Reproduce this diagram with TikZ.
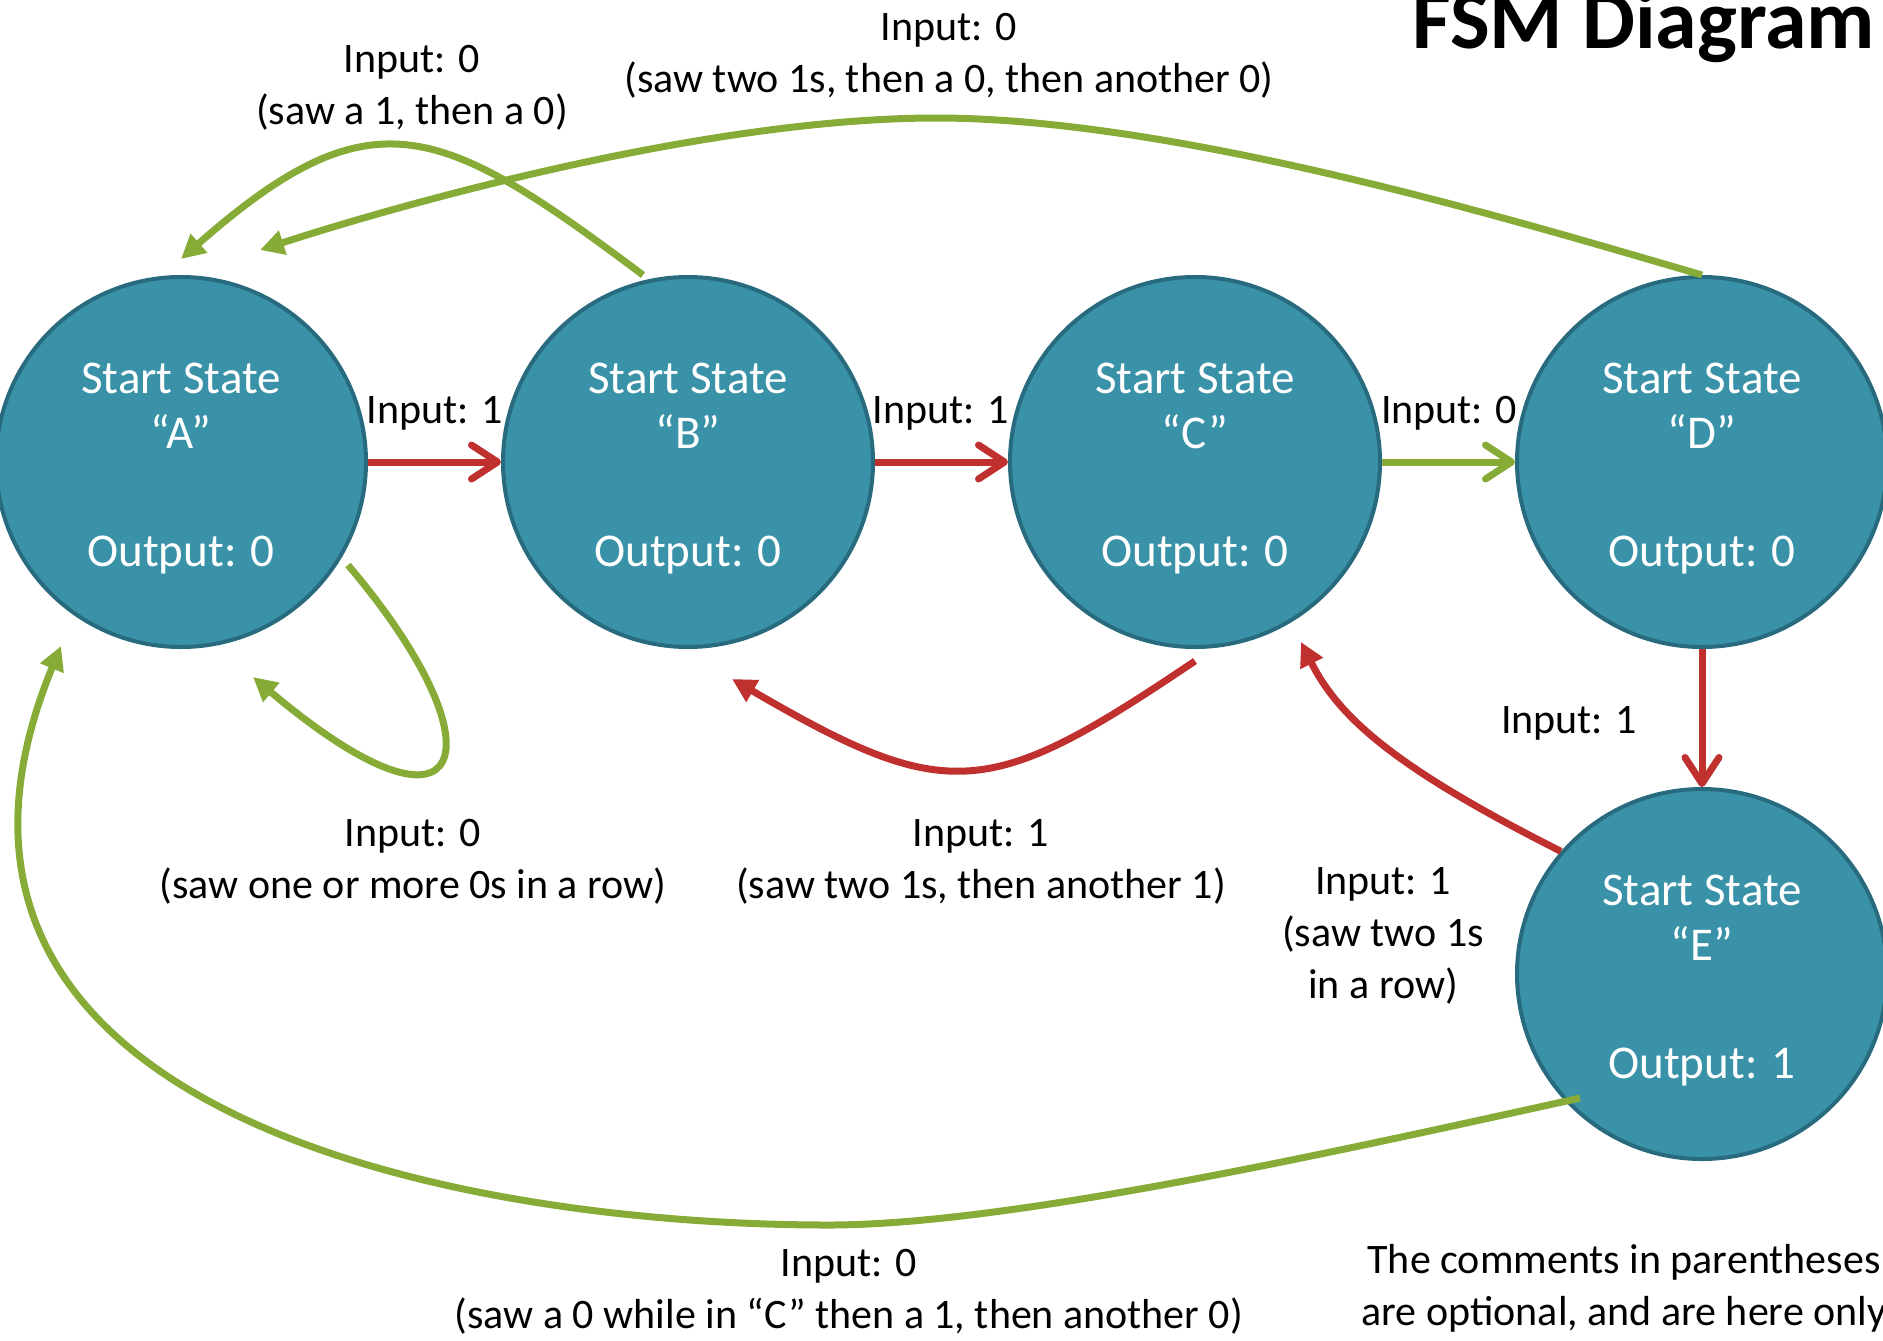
\documentclass[tikz,border=0pt]{standalone}
\usepackage{fontspec}
\setmainfont{Carlito}
\usepackage{xcolor}
\usepackage{tikz}
\usetikzlibrary{arrows.meta, positioning}
\definecolor{statefill}{HTML}{3A92A8}
\definecolor{stateedge}{HTML}{286B7F}
\definecolor{redline}{HTML}{C0302F}
\definecolor{greenline}{HTML}{86AC37}

\begin{document}
\begin{tikzpicture}[
  x=0.5pt, y=0.5pt,
  fsmstate/.style={circle, draw=stateedge, line width=2pt, fill=statefill, text=white, minimum size=185pt, inner sep=0pt, align=center, font=\fontsize{23.5}{27.5}\selectfont},
  redstraight/.style={draw=redline, line width=3.5pt, -{Straight Barb[length=13pt, width=17pt, round]}},
  greenstraight/.style={draw=greenline, line width=3.5pt, -{Straight Barb[length=13pt, width=17pt, round]}},
  redcurve/.style={draw=redline, line width=3.5pt, -{Triangle[length=12pt, width=12pt]}},
  greencurve/.style={draw=greenline, line width=3.5pt, -{Triangle[length=12pt, width=12pt]}},
  lbl/.style={font=\fontsize{21}{26}\selectfont, align=center}
]
  \useasboundingbox (0,0) rectangle (1883,-1340);

  \node[fsmstate] (A) at (181,-462) {\rule{0pt}{21.5pt}Start State\\“A”\\[31.5pt]Output: 0};
  \node[fsmstate, right=66.5pt of A] (B) {\rule{0pt}{21.5pt}Start State\\“B”\\[31.5pt]Output: 0};
  \node[fsmstate, right=66.5pt of B] (C) {\rule{0pt}{21.5pt}Start State\\“C”\\[31.5pt]Output: 0};
  \node[fsmstate, right=66.5pt of C] (D) {\rule{0pt}{21.5pt}Start State\\“D”\\[31.5pt]Output: 0};
  \node[fsmstate, below=69pt of D] (E) {\rule{0pt}{21.5pt}Start State\\“E”\\[31.5pt]Output: 1};

  \draw[redstraight] (A) -- (B);
  \draw[redstraight] (B) -- (C);
  \draw[greenstraight] (C) -- (D);
  \draw[redstraight] (D) -- (E);

  \draw[redcurve] (E.139) .. controls (1400,-770) and (1340,-720) .. ([xshift=53pt, yshift=-90pt]C.center);
  \draw[redcurve] ([yshift=-6pt]C.south) .. controls (989,-800) and (948,-805) .. ([xshift=22pt, yshift=-108.5pt]B.center);
  \draw[greencurve] ([xshift=83.5pt, yshift=-51.5pt]A.center) .. controls (505,-750) and (470,-860) .. ([xshift=36pt, yshift=-107.5pt]A.center);
  \draw[greencurve] ([xshift=-22.5pt, yshift=93.5pt]B.center) .. controls (440,-123) and (372,-91) .. ([yshift=101.5pt]A.center);
  \draw[greencurve] (D.north) .. controls (1530,-225) and (1180,-118) .. (936,-118) .. controls (720,-118) and (430,-195) .. ([xshift=39.5pt, yshift=106pt]A.center);
  \draw[greencurve] ([xshift=-61pt, yshift=-62pt]E.center) .. controls (1300,-1160) and (1000,-1225) .. (829,-1225) .. controls (450,-1225) and (-130,-1110) .. ([xshift=-60pt, yshift=-92pt]A.center);

  \node[lbl] (inAB) at (435,-413) {Input: 1};
  \node[lbl] (inBC) at (941,-413) {Input: 1};
  \node[lbl] (inCD) at (1449,-413) {Input: 0};
  \node[lbl] (inDE) at (1569,-723) {Input: 1};
  \node[lbl] (inEC) at (1383,-936) {Input: 1\\(saw two 1s\\in a row)};
  \node[lbl] (inCB) at (981,-862) {Input: 1\\(saw two 1s, then another 1)};
  \node[lbl] (inAA) at (413,-862) {Input: 0\\(saw one or more 0s in a row)};
  \node[lbl] (inBA) at (412,-88) {Input: 0\\(saw a 1, then a 0)};
  \node[lbl] (inDA) at (949,-56) {Input: 0\\(saw two 1s, then a 0, then another 0)};
  \node[lbl] (inEA) at (849,-1292) {Input: 0\\(saw a 0 while in “C” then a 1, then another 0)};

  \node[font=\fontsize{42}{50}\selectfont\bfseries, anchor=base east] (title) at (1882,-48) {FSM Diagram};
  \node[lbl] (note) at (1624,-1288) {The comments in parentheses\\are optional, and are here only};
\end{tikzpicture}
\end{document}
